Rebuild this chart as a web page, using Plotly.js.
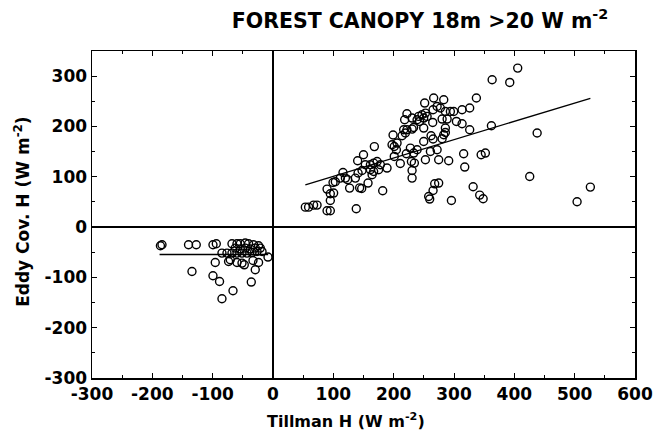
<!DOCTYPE html>
<html>
<head>
<meta charset="utf-8">
<script src="https://cdn.plot.ly/plotly-3.0.1.min.js"></script>
<style>html,body{margin:0;padding:0;background:#fff;}#chart{width:654px;height:444px;}</style>
</head>
<body>
<div id="chart"></div>
<script>
// Positive (daytime) points: Tillman H vs Eddy Cov. H
const posX = [53.6,59,67.3,73,89.6,95,138,95,95,100.5,89.6,99.5,103.3,116,111.6,120,123.7,127,143.6,147,157.5,136.5,141,147.6,140.3,150,168,
  153,161.4,166.8,172.5,178,161.4,166.8,175,164.2,189,181.8,211,201,197.3,201,205.6,199,214,219.4,216.6,222,230.5,233,204.5,221,227.7,229.4,234.3,230.5,230.5,
  218.2,222,230.5,238.8,241.5,247,249.8,252.6,255.4,243,251.4,266.3,283,272,277.4,285.7,294,299.5,313.4,265.3,280.3,288.6,264.7,249.8,249.8,262,265.3,
  285.7,285.7,283,280.3,238.8,260.9,233.2,252.6,272,274.6,291.2,304,313.4,326,316,317.8,268,274.6,265.3,258,259.7,295.7,
  405.6,363.2,392.4,337.1,326,362,437.8,345,352,425.5,331.7,342.6,348.3,504,526];
const posY = [39.6,39.6,43.7,43.7,32.4,32.4,36.4,52.9,66.2,67.6,75.5,88.7,90,108.5,97.4,97.4,94,77.5,78,76.7,87.5,97.4,107.4,112.5,131.8,143.7,160,
  123.8,123.8,127.2,130.4,123.8,114,110.5,114,104,117.3,72.2,126.4,140.4,163.6,160.2,167,183,181.5,187,193.4,193.4,194.8,198,153.7,145.7,157,130.4,127.2,112.5,97.4,
  213.3,225.2,216.7,213.3,220,223.3,216.7,226.6,220,210,246.5,256.5,253,239.8,236.6,229.8,229.8,229.8,233.2,233.2,214.7,214.7,208,196.8,170.2,181.5,175,
  196.8,188,183.5,175.5,153.7,150.3,147.1,133.8,153.7,133.8,131.8,210,205.4,193.4,145.7,119.3,86,87.5,72.8,60.8,55.7,52.9,
  316,292.8,287.5,256.5,236.6,201.4,186.9,143.7,147.1,100.6,80.1,63.6,56.3,50.3,79.5];
// Negative (night) points
const negX = [-186.6,-184,-140,-127.2,-99.5,-94,-68,-59.7,-54.2,-46,-40.5,-32.2,-23.9,-62.5,-54.2,-46,-37.6,-29.4,-21.1,-68,-59.7,-51.4,-43.1,-34.8,-26.5,-18.2,-84.6,-76.3,
  -8.3,-73.6,-70.8,-59.7,-51.4,-47.6,-33.2,-23.9,-95.7,-29.4,-134.3,-99.5,-88.6,-36,-66.3,-84.6];
const negY = [-37.2,-35.2,-35.2,-35.2,-35.2,-33.2,-33.2,-33.2,-33.2,-31.8,-33.2,-35.2,-37.2,-41.8,-43.7,-41.8,-43.7,-41.8,-41.8,-51.7,-51.7,-51.7,-51.7,-50.5,-48.5,-48.5,-51.7,-51.7,
  -59.6,-68.4,-65,-70.4,-71.6,-75,-66.4,-70.4,-70.4,-84.9,-88.3,-96.8,-108.2,-109.3,-126.6,-142.5];
// Fitted lines
const posLineX = [53.6, 526];
const posLineY = [84, 256];
const negLineX = [-188, -8];
const negLineY = [-54.5, -54.5];
const xTicks = [-300,-200,-100,0,100,200,300,400,500,600];
const yTicks = [-300,-200,-100,0,100,200,300];

const FAM = 'DejaVu Sans, Liberation Sans, Arial, sans-serif';
const fnt = {family: FAM, size: 17, color: '#000', weight: 700};
const mk = {symbol: 'circle-open', size: 8, color: '#000', line: {width: 1.4, color: '#000'}};
const traces = [
  {x: posX, y: posY, type: 'scatter', mode: 'markers', marker: mk, hoverinfo: 'skip'},
  {x: negX, y: negY, type: 'scatter', mode: 'markers', marker: mk, hoverinfo: 'skip'},
  {x: posLineX, y: posLineY, type: 'scatter', mode: 'lines', line: {color: '#000', width: 1.3}},
  {x: negLineX, y: negLineY, type: 'scatter', mode: 'lines', line: {color: '#000', width: 1.3}}
];
const axBase = {
  showline: true, linewidth: 1.5, linecolor: '#000', mirror: 'ticks',
  ticks: 'inside', ticklen: 5, tickwidth: 1, tickcolor: '#000',
  showgrid: false, zeroline: true, zerolinecolor: '#000', zerolinewidth: 2.2,
  tickfont: fnt,
  minor: {dtick: 50, ticks: 'inside', ticklen: 3, tickcolor: '#000', showgrid: false}
};
const layout = {
  width: 654, height: 444,
  margin: {l: 92, r: 19, t: 51, b: 66},
  paper_bgcolor: '#fff', plot_bgcolor: '#fff',
  showlegend: false,
  title: {text: 'FOREST CANOPY 18m >20 W m<sup>-2</sup>', font: {family: FAM, size: 20.5, color: '#000', weight: 700},
          xref: 'paper', x: 0.604, xanchor: 'center', yref: 'container', y: 0.953, yanchor: 'middle'},
  xaxis: Object.assign({}, axBase, {range: [-300, 600], tickvals: xTicks, ticktext: xTicks.map(String)}),
  yaxis: Object.assign({}, axBase, {range: [-300, 350], tickvals: yTicks, ticktext: yTicks.map(String)}),
  annotations: [
    {text: 'Tillman H (W m<sup>-2</sup>)', xref: 'paper', yref: 'paper', x: 0.468, y: -0.13,
     xanchor: 'center', yanchor: 'middle', showarrow: false, font: {family: FAM, size: 16, color: '#000', weight: 700}},
    {text: 'Eddy Cov. H (W m<sup>-2</sup>)', xref: 'paper', yref: 'paper', x: -0.129, y: 0.508, textangle: -90,
     xanchor: 'center', yanchor: 'middle', showarrow: false, font: {family: FAM, size: 17, color: '#000', weight: 700}}
  ]
};
Plotly.newPlot('chart', traces, layout, {displayModeBar: false, staticPlot: true});
</script>
</body>
</html>
